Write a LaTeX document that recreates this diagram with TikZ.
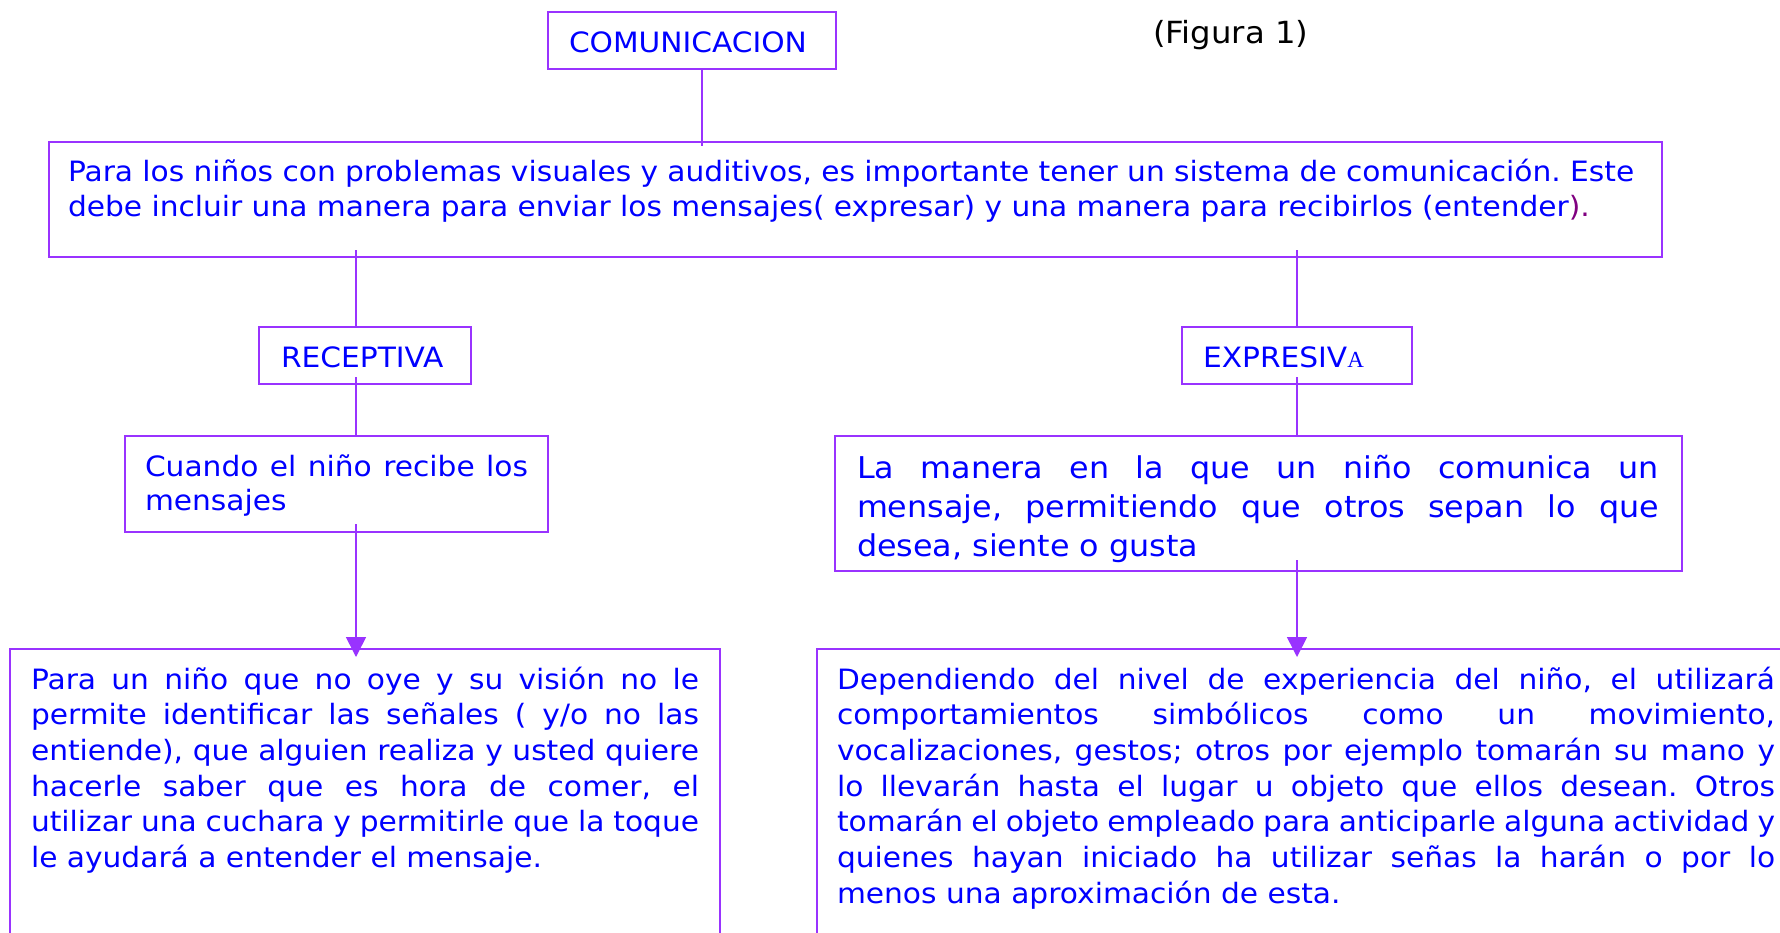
\documentclass[tikz,border=0pt]{standalone}
\usepackage{fontspec}
\setmainfont{DejaVu Sans}[FakeStretch=1.06]
\newfontfamily\serifA{Liberation Serif}
\usetikzlibrary{arrows.meta}
\definecolor{boxline}{RGB}{153,51,255}
\definecolor{txtblue}{RGB}{0,0,255}
\definecolor{parpurple}{RGB}{128,0,128}
\frenchspacing
\begin{document}
\begin{tikzpicture}[x=1pt,y=-1pt,
  box/.style={draw=boxline, line width=1.8pt, inner sep=0pt, outer sep=0pt, anchor=north west},
  txt/.style={text=txtblue, inner sep=0pt, outer sep=0pt, anchor=base west, font=\fontsize{28}{35.4}\selectfont},
  jtxt/.style={txt, align=justify, execute at begin node={\tolerance=10000\hyphenpenalty=10000\frenchspacing}},
  conn/.style={draw=boxline, line width=1.6pt},
  arr/.style={conn, -{Triangle[width=20pt,length=20pt]}}]
\clip (0,0) rectangle (1780,932);
\fill[white] (0,0) rectangle (1780,932);
% boxes
\node[box, minimum width=288pt, minimum height=57pt] (com) at (548,12) {};
\node[box, minimum width=1613pt, minimum height=115pt] (big) at (49,142) {};
\node[box, minimum width=212pt, minimum height=57pt] (rec) at (259,327) {};
\node[box, minimum width=230pt, minimum height=57pt] (exp) at (1182,327) {};
\node[box, minimum width=423pt, minimum height=96pt] (cua) at (125,436) {};
\node[box, minimum width=847pt, minimum height=135pt] (man) at (835,436) {};
\node[box, minimum width=710pt, minimum height=330pt] (bl) at (10,649) {};
\node[box, minimum width=1000pt, minimum height=330pt] (br) at (817,649) {};
% connector guides
\coordinate (xc) at (702,0);
\coordinate (xl) at (356,0);
\coordinate (xr) at (1297,0);
% connectors
\draw[conn, shorten >=-4pt] (com.south -| xc) -- (big.north -| xc);
\draw[conn, shorten <=-7pt] (big.south -| xl) -- (rec.north -| xl);
\draw[conn, shorten <=-7pt] (big.south -| xr) -- (exp.north -| xr);
\draw[conn, shorten <=-7pt] (rec.south -| xl) -- (cua.north -| xl);
\draw[conn, shorten <=-7pt] (exp.south -| xr) -- (man.north -| xr);
\draw[arr, shorten <=-8pt, shorten >=-8pt] (cua.south -| xl) -- (bl.north -| xl);
\draw[arr, shorten <=-11pt, shorten >=-8pt] (man.south -| xr) -- (br.north -| xr);
% texts
\node[txt] (comt) at (569,52) {COMUNICACION};
\node[txt, text=black, font=\fontsize{30.5}{36}\selectfont] (fig) at (1153,43) {(Figura 1)};
\node[txt, text width=1595pt, align=left] (bigt) at (68,181) {Para los niños con problemas visuales y auditivos, es importante tener un sistema de comunicación. Este\\debe incluir una manera para enviar los mensajes( expresar) y una manera para recibirlos (entender\textcolor{parpurple}{).}};
\node[txt] (rect) at (281,367) {RECEPTIVA};
\node[txt] (expt) at (1203,367) {EXPRESIV{\serifA\fontsize{23}{23}\selectfont A}};
\node[jtxt, text width=383pt, font=\fontsize{28}{34}\selectfont] (cuat) at (145,476) {Cuando el niño recibe los\linebreak mensajes};
\node[jtxt, text width=802pt, font=\fontsize{30}{39}\selectfont] (mant) at (857,478) {La manera en la que un niño comunica un\linebreak mensaje, permitiendo que otros sepan lo que\linebreak desea, siente o gusta};
\node[jtxt, text width=668pt, font=\fontsize{28}{35.7}\selectfont] (blt) at (31,689) {Para un niño que no oye y su visión no le\linebreak permite identificar las señales ( y/o no las\linebreak entiende), que alguien realiza y usted quiere\linebreak hacerle saber que es hora de comer, el\linebreak utilizar una cuchara y permitirle que la toque\linebreak le ayudará a entender el mensaje.};
\node[jtxt, text width=938pt, font=\fontsize{28}{35.7}\selectfont] (brt) at (837,689) {Dependiendo del nivel de experiencia del niño, el utilizará\linebreak comportamientos simbólicos como un movimiento,\linebreak vocalizaciones, gestos; otros por ejemplo tomarán su mano y\linebreak lo llevarán hasta el lugar u objeto que ellos desean. Otros\linebreak tomarán el objeto empleado para anticiparle alguna actividad y\linebreak quienes hayan iniciado ha utilizar señas la harán o por lo\linebreak menos una aproximación de esta.};
\end{tikzpicture}
\end{document}
